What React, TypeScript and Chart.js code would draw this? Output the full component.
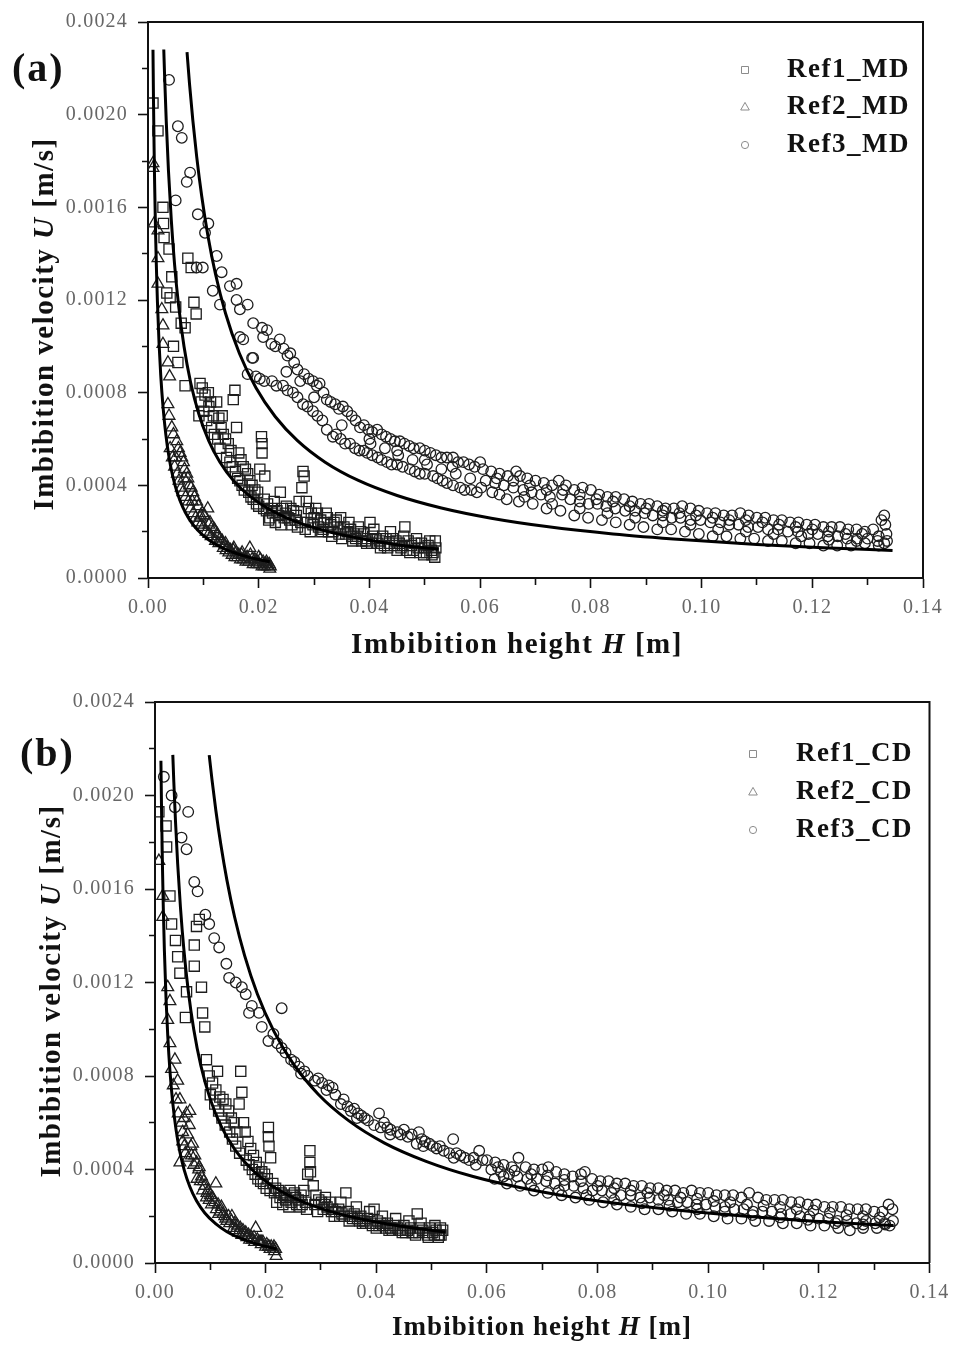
import React, { useEffect, useRef } from 'react';
import { Chart, registerables } from 'chart.js';

Chart.register(...registerables);

// All points: [H in mm, U in µm/s]  (converted to m and m/s for plotting)
type Pt = [number, number];

const xMajorTicks = [0, 0.02, 0.04, 0.06, 0.08, 0.1, 0.12, 0.14];
const yMajorTicks = [0, 0.0004, 0.0008, 0.0012, 0.0016, 0.002, 0.0024];
const xTitleParts = ['Imbibition height ', 'H', ' [m]'];
const yTitleParts = ['Imbibition velocity ', 'U', ' [m/s]'];
const mdLabels = ['Ref1_MD', 'Ref2_MD', 'Ref3_MD'];
const cdLabels = ['Ref1_CD', 'Ref2_CD', 'Ref3_CD'];

// ---------------- Panel (a): MD ----------------
const ref1MD: Pt[] = [
  [0.9, 2050], [1.8, 1930], [2.7, 1600], [2.8, 1530], [2.9, 1470], [3.4, 1230], [3.8, 1420], [4.0, 1210], [4.3, 1300], [4.6, 1000],
  [5.0, 1170], [5.4, 930], [6.0, 1100], [6.7, 1080], [6.7, 830], [7.2, 1380], [7.8, 1340], [8.3, 1190], [8.7, 1140], [9.2, 700],
  [9.4, 840], [9.6, 760], [9.8, 820], [10.1, 720], [10.3, 790], [10.6, 680], [10.9, 800], [11.0, 740], [11.3, 760], [11.5, 650],
  [11.8, 700], [12.0, 620], [12.4, 760], [12.6, 600], [12.8, 690], [13.0, 560], [13.2, 650], [13.4, 700], [13.6, 620], [14.0, 600],
  [14.2, 520], [14.5, 580], [14.8, 500], [15.0, 550], [15.2, 480], [15.4, 770], [15.7, 810], [15.8, 460], [16.0, 650], [16.2, 430],
  [16.4, 540], [16.6, 420], [16.8, 510], [17.0, 400], [17.2, 480], [17.4, 380], [17.6, 470], [18.0, 450], [18.2, 370], [18.4, 420],
  [18.6, 350], [18.8, 400], [19.0, 340], [19.3, 380], [19.6, 320], [19.8, 370], [20.0, 310], [20.2, 470], [20.5, 610], [20.6, 580],
  [20.6, 540], [20.9, 300], [21.0, 340], [21.1, 440], [21.4, 290], [21.6, 320], [22.0, 260], [22.3, 300], [22.5, 280], [22.8, 330],
  [23.3, 290], [23.6, 270], [23.9, 370], [24.3, 300], [24.6, 260], [24.8, 280], [25.3, 260], [25.6, 250], [25.8, 300], [26.3, 290],
  [26.6, 250], [26.8, 270], [27.3, 330], [27.6, 240], [27.8, 390], [28.0, 460], [28.2, 440], [28.6, 330], [28.8, 240], [29.0, 300],
  [29.5, 280], [29.8, 230], [30.0, 260], [30.6, 280], [30.8, 220], [31.2, 250], [31.6, 210], [31.8, 240], [32.4, 260], [32.6, 200],
  [33.0, 230], [33.4, 200], [33.6, 240], [34.2, 220], [34.5, 190], [34.8, 260], [35.4, 220], [35.7, 190], [36.0, 200], [36.6, 210],
  [36.8, 180], [37.2, 190], [37.5, 170], [37.8, 180], [38.4, 200], [38.6, 160], [39.0, 190], [39.3, 160], [39.6, 170], [40.1, 240],
  [40.4, 150], [40.6, 180], [41.2, 170], [41.5, 150], [41.8, 160], [42.4, 180], [42.7, 140], [43.0, 170], [43.3, 130], [43.6, 150],
  [44.2, 170], [44.5, 140], [44.8, 160], [45.4, 150], [45.7, 130], [46.0, 140], [46.4, 220], [46.7, 120], [47.0, 160], [47.6, 140],
  [47.9, 120], [48.2, 150], [48.8, 130], [49.1, 110], [49.4, 150], [50.0, 130], [50.3, 110], [50.6, 140], [51.2, 120], [51.5, 110],
  [51.8, 90], [51.9, 160], [52.0, 130],
  [21.8, 250], [23.0, 240], [24.0, 230], [25.0, 310], [26.0, 230], [27.0, 220], [28.4, 210], [29.3, 200], [30.3, 300], [31.4, 200],
  [32.2, 280], [33.2, 180], [34.0, 250], [35.0, 170], [36.3, 240], [37.0, 160], [38.0, 220], [39.5, 150], [40.8, 210], [42.0, 130],
  [43.8, 200], [45.0, 120], [46.2, 180], [47.3, 110], [48.5, 170], [49.8, 100], [50.9, 160], [51.3, 100],
];

const ref2MD: Pt[] = [
  [0.9, 1790], [0.9, 1770], [1.1, 1530], [1.8, 1500], [1.8, 1380], [1.8, 1270], [2.5, 1160], [2.7, 1090], [2.7, 1010], [3.6, 930],
  [3.9, 870], [3.6, 750], [3.8, 700], [4.0, 560], [4.3, 650], [4.4, 520], [4.6, 620], [4.8, 480], [5.2, 590], [5.3, 450],
  [5.5, 560], [5.6, 420], [5.8, 540], [6.0, 390], [6.1, 520], [6.3, 370], [6.4, 500], [6.6, 470], [6.8, 350], [7.0, 450],
  [7.2, 430], [7.3, 330], [7.5, 400], [7.7, 300], [7.8, 390], [8.1, 370], [8.2, 280], [8.4, 350], [8.6, 260], [8.8, 330],
  [9.0, 240], [9.1, 310], [9.4, 260], [9.6, 230], [9.8, 280], [10.0, 220], [10.2, 270], [10.5, 200], [10.8, 300], [11.0, 190],
  [11.2, 240], [11.4, 180], [11.6, 220], [12.0, 210], [12.2, 160], [12.5, 180], [12.8, 150], [13.0, 170], [13.4, 160], [13.6, 130],
  [13.9, 140], [14.1, 120], [14.4, 130], [14.6, 110], [14.9, 120], [15.2, 100], [15.4, 120], [15.7, 90], [15.9, 110], [16.2, 90],
  [16.4, 100], [16.7, 80], [16.9, 100], [17.2, 80], [17.4, 90], [17.7, 70], [17.9, 90], [18.2, 70], [18.4, 130], [18.8, 80],
  [19.0, 60], [19.3, 80], [19.6, 60], [19.8, 70], [20.1, 60], [20.3, 80], [20.6, 50], [20.8, 70], [21.0, 50], [21.2, 60],
  [21.4, 70], [21.6, 50], [21.9, 60], [22.0, 40], [22.1, 50],
  [5.0, 520], [6.5, 430], [8.0, 330], [9.5, 270], [11.0, 230], [12.5, 190], [14.0, 150], [15.5, 130], [17.0, 110], [18.5, 100],
  [20.0, 90], [21.5, 60],
];

const ref3MD: Pt[] = [
  [3.8, 2150], [5.0, 1630], [5.4, 1950], [6.1, 1900], [7.0, 1710], [7.6, 1750], [8.8, 1340], [9.0, 1570], [9.9, 1340], [10.3, 1490],
  [10.9, 1530], [11.7, 1240], [12.4, 1390], [13.0, 1180], [13.3, 1320], [14.8, 1260], [16.0, 1270], [16.0, 1200], [16.6, 1160], [16.6, 1040],
  [17.2, 1030], [18.0, 1180], [19.0, 1100], [19.0, 950], [20.6, 1080], [21.5, 1070],
  // upper branch
  [20.8, 1040], [22.3, 1010], [23.0, 1000], [23.8, 1030], [24.5, 990], [25.2, 960], [25.7, 970], [26.4, 930], [27.0, 900], [27.5, 850],
  [28.2, 880], [29.0, 860], [29.8, 850], [30.5, 830], [31.0, 840], [31.7, 800], [32.3, 770], [33.0, 760], [33.8, 750], [34.5, 730],
  [35.2, 740], [36.0, 720], [36.8, 700], [37.5, 680], [38.3, 650], [39.0, 660], [39.8, 640], [40.5, 630], [41.4, 640], [42.2, 620],
  [43.0, 610], [43.8, 600], [44.6, 590], [45.5, 590], [46.3, 580], [47.2, 570], [48.0, 560], [49.1, 560], [50.0, 550], [51.0, 540],
  [52.0, 530], [53.0, 520], [54.0, 520], [55.1, 520], [56.0, 500], [57.0, 500], [58.0, 490], [59.0, 480], [60.0, 500],
  // lower branch
  [18.0, 880], [18.8, 950], [19.5, 870], [20.2, 860], [21.0, 850], [22.4, 850], [23.2, 830], [24.4, 830], [25.2, 810], [26.2, 800],
  [27.0, 780], [28.0, 750], [28.8, 740], [29.8, 720], [30.6, 700], [31.5, 680], [32.3, 640], [33.4, 610], [34.0, 620], [34.8, 600],
  [35.6, 580], [36.5, 580], [37.4, 560], [38.2, 550], [39.0, 550], [39.6, 540], [40.5, 530], [41.5, 520], [42.2, 510], [43.2, 500],
  [44.0, 490], [45.0, 490], [46.0, 480], [47.3, 470], [48.2, 460], [49.1, 450], [50.0, 450], [51.5, 440], [52.3, 430], [53.2, 420],
  [54.0, 410], [55.1, 400], [56.4, 390], [57.2, 380], [58.4, 380], [59.4, 370],
  [40.2, 580], [42.8, 560], [45.2, 530], [47.8, 510], [50.4, 490], [53.0, 470], [55.6, 450], [58.2, 430],
  [25.0, 890], [30.0, 780], [35.0, 660], [40.0, 600], [45.0, 550], [50.0, 510], [55.0, 480],
  // band, upper
  [60.5, 470], [62.0, 460], [63.5, 450], [65.0, 440], [66.5, 460], [67.2, 440], [68.5, 430], [70.0, 420], [71.5, 410], [73.0, 400],
  [74.2, 420], [75.5, 400], [77.0, 380], [78.5, 390], [80.0, 380], [81.5, 360], [83.0, 350], [84.5, 350], [86.0, 340], [87.5, 330],
  [89.0, 320], [90.5, 320], [92.0, 310], [93.5, 300], [95.0, 300], [96.5, 310], [98.0, 300], [99.5, 290], [101.0, 280], [102.5, 280],
  [104.0, 270], [105.5, 270], [107.0, 280], [108.5, 270], [110.0, 260], [111.5, 260], [113.0, 250], [114.5, 250], [116.0, 240], [117.5, 240],
  [119.0, 230], [120.5, 230], [122.0, 220], [123.5, 220], [125.0, 220], [126.5, 210], [128.0, 210], [129.5, 200], [131.0, 210], [132.5, 250],
  [133.0, 270], [133.2, 230],
  // band, upper-middle
  [63.0, 430], [66.0, 420], [69.0, 400], [72.0, 380], [75.0, 380], [78.0, 360], [81.0, 340], [84.0, 330], [87.0, 310], [90.0, 300],
  [93.0, 290], [96.0, 280], [99.0, 270], [102.0, 260], [105.0, 250], [108.0, 250], [111.0, 240], [114.0, 230], [117.0, 220], [120.0, 210],
  [123.0, 200], [126.0, 190], [129.0, 190], [132.0, 180],
  // band, middle
  [61.0, 420], [62.7, 410], [64.3, 400], [66.0, 390], [67.8, 380], [69.3, 370], [71.0, 360], [72.6, 350], [74.8, 360], [76.3, 340],
  [78.0, 330], [79.6, 320], [81.2, 320], [82.8, 310], [84.4, 300], [86.2, 290], [88.0, 290], [89.7, 280], [91.2, 270], [93.0, 270],
  [94.6, 260], [96.2, 260], [98.0, 250], [99.8, 250], [101.6, 240], [103.4, 240], [105.0, 230], [106.7, 230], [108.4, 220], [110.2, 220],
  [112.0, 210], [113.8, 210], [115.6, 200], [117.4, 200], [119.3, 190], [121.0, 190], [122.8, 180], [124.6, 180], [126.3, 170], [128.1, 170],
  [130.0, 170], [131.8, 160], [133.4, 190],
  // band, lower-middle
  [63.5, 360], [68.0, 350], [73.0, 320], [78.0, 300], [83.0, 280], [88.0, 260], [93.0, 240], [98.0, 230], [103.0, 210], [108.0, 200],
  [113.0, 190], [118.0, 180], [123.0, 165], [128.0, 160], [133.0, 150],
  // band, lower
  [60.2, 390], [62.2, 370], [64.8, 340], [67.0, 330], [69.5, 320], [72.0, 300], [74.5, 290], [77.0, 270], [79.5, 260], [82.0, 250],
  [84.5, 240], [87.0, 230], [89.5, 220], [92.0, 210], [94.5, 210], [97.0, 200], [99.5, 190], [102.0, 180], [104.5, 180], [107.0, 170],
  [109.5, 170], [112.0, 160], [114.5, 160], [117.0, 150], [119.5, 150], [122.0, 140], [124.5, 140], [127.0, 140], [129.5, 150], [132.0, 140],
  [133.5, 160],
];

const fitA1: Pt[] = [
  [0.9, 2280], [1.0, 2046], [1.1, 1858], [1.2, 1700], [1.35, 1510], [1.5, 1356], [1.7, 1194], [2.0, 1011], [2.3, 876], [2.7, 743],
  [3.2, 623], [3.8, 521], [4.5, 436], [5.3, 367], [6.3, 305], [7.5, 252], [9.0, 206], [11.0, 164], [13.0, 135], [15.5, 110],
  [18.0, 91], [20.0, 80], [22.0, 70],
];
const fitA2: Pt[] = [
  [2.85, 2281], [3.0, 2167], [3.3, 1970], [3.7, 1757], [4.2, 1548], [4.8, 1354], [5.5, 1182], [6.5, 1000], [7.7, 844], [9.2, 707],
  [11.0, 591], [13.0, 500], [15.5, 419], [18.5, 351], [22.0, 295], [26.0, 250], [30.0, 217], [35.0, 186], [40.0, 163], [45.0, 144],
  [52.5, 124],
];
const fitA3: Pt[] = [
  [7.05, 2270], [7.5, 2133], [8.1, 1975], [8.8, 1818], [9.7, 1649], [10.8, 1481], [12.2, 1311], [14.0, 1143], [16.5, 970], [19.5, 821],
  [23.0, 696], [27.0, 593], [32.0, 500], [38.0, 421], [45.0, 356], [53.0, 302], [62.0, 258], [72.0, 222], [84.0, 190], [97.0, 165],
  [110.0, 145], [122.0, 131], [134.5, 119],
];

// ---------------- Panel (b): CD ----------------
const ref1CD: Pt[] = [
  [0.7, 1930], [2.0, 1870], [2.1, 1780], [2.7, 1570], [3.0, 1450], [3.7, 1380], [4.1, 1310], [4.5, 1240], [5.5, 1050], [5.7, 1160],
  [7.1, 1360], [7.1, 1270], [7.5, 1440], [8.0, 1470], [8.4, 1180], [8.6, 1070], [9.0, 1010], [9.3, 870], [9.8, 800], [10.0, 720],
  [10.4, 770], [10.8, 680], [11.0, 740], [11.3, 820], [11.5, 650], [11.7, 710], [12.1, 620], [12.3, 700], [12.7, 590], [12.8, 680],
  [13.3, 650], [13.5, 560], [13.8, 620], [14.0, 530], [14.3, 600], [14.6, 500], [14.8, 560], [15.2, 680], [15.3, 470], [15.5, 820],
  [15.7, 730], [16.0, 600], [16.3, 560], [16.5, 440], [16.8, 520], [17.0, 420], [17.3, 490], [17.6, 400], [17.8, 460], [18.1, 380],
  [18.3, 430], [18.6, 360], [18.8, 410], [19.1, 350], [19.3, 390], [19.6, 340], [19.8, 380], [20.1, 320], [20.3, 360], [20.5, 580],
  [20.5, 540], [20.6, 500], [20.8, 310], [20.9, 450], [21.3, 340], [21.6, 300], [21.8, 320], [22.3, 310], [22.6, 280], [22.8, 300],
  [23.3, 290], [23.6, 270], [23.8, 280], [24.4, 310], [24.6, 260], [24.9, 290], [25.4, 280], [25.6, 250], [25.9, 270], [26.4, 290],
  [26.6, 250], [26.9, 310], [27.2, 260], [27.6, 380], [28.0, 480], [28.0, 430], [28.1, 390], [28.6, 330], [28.9, 250], [29.1, 290],
  [29.6, 270], [30.1, 260], [30.4, 230], [30.6, 250], [31.1, 240], [31.6, 260], [31.9, 220], [32.1, 230], [32.7, 220], [33.2, 230],
  [33.4, 200], [33.8, 210], [34.2, 200], [34.5, 300], [34.9, 220], [35.4, 200], [35.7, 190], [36.0, 210], [36.6, 190], [37.0, 180],
  [37.2, 200], [37.8, 180], [38.1, 170], [38.4, 190], [39.0, 170], [39.3, 160], [39.6, 230], [40.2, 180], [40.5, 160], [40.8, 170],
  [41.4, 160], [41.7, 150], [42.0, 170], [42.6, 150], [42.9, 140], [43.2, 160], [43.8, 150], [44.1, 140], [44.4, 140], [45.0, 160],
  [45.3, 130], [45.6, 140], [46.2, 150], [46.5, 130], [46.8, 130], [47.4, 210], [47.7, 130], [47.8, 150], [48.4, 140], [49.0, 130],
  [49.3, 120], [49.6, 150], [50.2, 130], [50.5, 120], [50.8, 140], [51.4, 120], [51.6, 150], [51.7, 120], [52.0, 140],
  [22.0, 260], [23.1, 250], [24.2, 240], [25.2, 300], [26.2, 240], [27.4, 230], [29.4, 220], [30.8, 280], [32.4, 200], [33.6, 260],
  [35.1, 180], [36.4, 240], [37.5, 170], [38.8, 220], [40.0, 150], [41.1, 200], [42.3, 140], [43.5, 190], [44.7, 130], [45.9, 180],
  [47.1, 120], [48.1, 170], [49.4, 110], [50.6, 160], [51.2, 110],
];

const ref2CD: Pt[] = [
  [0.7, 1720], [1.4, 1570], [1.4, 1480], [2.3, 1180], [2.3, 1040], [2.7, 1120], [2.7, 940], [3.0, 830], [3.3, 760], [3.6, 870],
  [3.8, 700], [4.1, 780], [4.2, 640], [4.5, 700], [4.5, 430], [4.8, 600], [5.0, 560], [5.2, 620], [5.3, 500], [5.5, 470],
  [5.7, 640], [5.9, 550], [6.0, 450], [6.2, 590], [6.3, 650], [6.5, 500], [6.8, 510], [7.0, 420], [7.2, 460], [7.5, 430],
  [7.6, 360], [7.9, 400], [8.0, 410], [8.4, 370], [8.6, 310], [8.8, 350], [9.0, 330], [9.3, 280], [9.4, 300], [9.6, 310],
  [10.0, 290], [10.2, 250], [10.4, 280], [10.8, 260], [11.0, 340], [11.1, 230], [11.4, 250], [11.8, 220], [12.0, 240], [12.3, 210],
  [12.6, 200], [12.8, 190], [13.3, 200], [13.5, 170], [13.8, 180], [13.9, 200], [14.2, 150], [14.4, 170], [14.9, 160], [15.1, 130],
  [15.4, 150], [15.7, 120], [15.9, 140], [16.4, 130], [16.6, 110], [16.9, 120], [17.1, 100], [17.4, 110], [17.9, 110], [18.0, 90],
  [18.2, 150], [18.5, 100], [18.8, 90], [19.0, 90], [19.2, 80], [19.5, 90], [20.0, 70], [20.2, 80], [20.5, 70], [20.8, 60],
  [21.0, 70], [21.4, 60], [21.6, 50], [21.8, 60], [21.9, 30],
  [5.0, 520], [6.6, 460], [8.2, 350], [9.8, 270], [11.5, 210], [13.0, 180], [14.6, 140], [16.2, 120], [17.6, 100], [19.2, 90],
  [20.6, 70], [21.5, 70],
];

const ref3CD: Pt[] = [
  [1.6, 2080], [3.0, 2000], [3.6, 1950], [4.8, 1820], [5.7, 1770], [6.0, 1930], [7.1, 1630], [7.7, 1590], [9.1, 1490], [9.8, 1450],
  [10.7, 1390], [11.6, 1350], [12.9, 1280], [13.4, 1220], [14.6, 1200], [15.7, 1180], [16.4, 1150], [17.0, 1070], [17.5, 1100], [18.8, 1070],
  [19.3, 1010], [20.5, 950], [21.4, 980], [22.1, 940], [22.9, 1090], [22.9, 920], [23.6, 900], [24.6, 870], [25.2, 860], [26.4, 810],
  [27.0, 820], [27.6, 800], [28.9, 780], [29.5, 790], [30.2, 770], [31.4, 760], [32.1, 750], [32.6, 720], [33.6, 680], [34.1, 700],
  [34.8, 670], [35.4, 650], [36.0, 660], [36.7, 640], [37.3, 630], [37.9, 620], [38.5, 610], [39.6, 590], [40.5, 640], [40.8, 580],
  [41.4, 600], [42.0, 580], [42.6, 570], [43.8, 560], [44.4, 550], [45.0, 570], [45.7, 540], [46.4, 550], [47.3, 510], [47.7, 560],
  [48.2, 530], [48.8, 520], [49.6, 510], [50.2, 500], [50.9, 490], [51.5, 500], [52.2, 480], [53.2, 470], [53.9, 530], [54.5, 470],
  [55.2, 460], [56.0, 450], [56.8, 440], [57.6, 450], [58.6, 480], [59.2, 440],
  [26.0, 840], [31.0, 740], [36.5, 620], [42.5, 550], [48.5, 500], [54.0, 450], [58.0, 420],
  // band, upper
  [60.0, 440], [61.5, 430], [63.0, 420], [64.5, 410], [65.7, 450], [67.0, 410], [68.5, 400], [70.0, 400], [71.1, 410], [72.5, 390],
  [74.0, 380], [75.5, 370], [77.0, 380], [77.7, 390], [79.0, 360], [80.5, 350], [82.0, 350], [83.5, 340], [85.0, 340], [86.5, 330],
  [88.0, 330], [89.5, 320], [91.0, 320], [92.5, 310], [94.0, 310], [95.5, 300], [97.0, 310], [98.5, 300], [100.0, 300], [101.5, 290],
  [103.0, 290], [104.5, 290], [106.0, 280], [107.4, 300], [109.0, 280], [110.5, 270], [112.0, 270], [113.5, 270], [115.0, 260], [116.5, 260],
  [118.0, 250], [119.5, 250], [121.0, 240], [122.5, 240], [124.0, 240], [125.5, 230], [127.0, 230], [128.5, 230], [130.0, 220], [131.5, 220],
  [132.6, 250], [133.3, 230],
  // band, upper-middle
  [62.0, 410], [65.0, 395], [68.0, 380], [71.0, 375], [74.0, 355], [77.0, 350], [80.0, 330], [83.0, 320], [86.0, 310], [89.0, 300],
  [92.0, 290], [95.0, 280], [98.0, 275], [101.0, 265], [104.0, 260], [107.0, 250], [110.0, 245], [113.0, 240], [116.0, 230], [119.0, 225],
  [122.0, 215], [125.0, 205], [128.0, 200], [131.0, 195],
  // band, middle
  [60.8, 400], [62.5, 390], [64.0, 380], [65.5, 370], [67.3, 360], [69.0, 360], [70.7, 350], [72.3, 340], [74.0, 330], [75.7, 330],
  [77.4, 320], [79.1, 310], [80.8, 310], [82.5, 300], [84.2, 290], [86.0, 290], [87.7, 280], [89.4, 280], [91.0, 270], [92.8, 270],
  [94.5, 260], [96.2, 260], [97.9, 250], [99.6, 250], [101.3, 240], [103.0, 240], [104.7, 230], [106.4, 230], [108.1, 220], [109.8, 220],
  [111.5, 220], [113.2, 210], [114.9, 210], [116.6, 200], [118.3, 200], [120.0, 190], [121.7, 190], [123.4, 180], [125.1, 180], [126.8, 170],
  [128.5, 180], [130.2, 170], [131.9, 170], [133.4, 180],
  // band, lower-middle
  [63.0, 370], [68.0, 335], [73.0, 310], [78.0, 290], [83.0, 270], [88.0, 255], [93.0, 245], [98.0, 230], [103.0, 220], [108.0, 205],
  [113.0, 195], [118.0, 185], [123.0, 170], [128.0, 165], [132.0, 165],
  // band, lower
  [61.4, 360], [63.6, 340], [66.0, 330], [68.5, 310], [71.0, 300], [73.5, 290], [76.0, 280], [78.5, 270], [81.0, 260], [83.5, 250],
  [86.0, 240], [88.5, 230], [91.0, 230], [93.5, 220], [96.0, 210], [98.5, 210], [101.0, 200], [103.5, 190], [106.0, 190], [108.5, 180],
  [111.0, 180], [113.5, 170], [116.0, 170], [118.5, 160], [121.0, 160], [123.5, 150], [125.6, 140], [128.0, 150], [130.5, 150], [132.8, 160],
];

const fitB1: Pt[] = [
  [1.07, 2149], [1.2, 1911], [1.35, 1694], [1.5, 1520], [1.7, 1335], [2.0, 1128], [2.3, 975], [2.7, 823], [3.2, 687], [3.8, 571],
  [4.5, 475], [5.3, 396], [6.3, 326], [7.5, 266], [9.0, 214], [11.0, 167], [13.0, 134], [15.5, 105], [18.0, 84], [20.0, 71],
  [22.0, 60],
];
const fitB2: Pt[] = [
  [3.22, 2174], [3.4, 2059], [3.7, 1892], [4.1, 1707], [4.6, 1522], [5.2, 1346], [6.0, 1167], [7.0, 1000], [8.3, 843], [10.0, 700],
  [12.0, 583], [14.5, 483], [17.5, 400], [21.0, 333], [25.0, 280], [29.5, 237], [35.0, 200], [41.0, 171], [47.0, 149], [52.5, 133],
];
const fitB3: Pt[] = [
  [9.8, 2173], [10.3, 2068], [11.0, 1936], [11.9, 1790], [13.0, 1638], [14.4, 1479], [16.2, 1315], [18.5, 1151], [21.5, 991], [25.0, 852],
  [29.5, 722], [35.0, 609], [41.5, 513], [49.0, 435], [57.5, 370], [67.0, 318], [78.0, 273], [90.0, 237], [103.0, 207], [117.0, 182],
  [133.5, 160],
];

// ---------------- drawing helpers ----------------
const FONT = '"Liberation Serif", "Times New Roman", serif';
const MARKERS = ['rect', 'triangle', 'circle'];
const MARKER_R = [7.2, 6.8, 5.3];

const toXY = (arr: Pt[]) => arr.map(([h, u]) => ({ x: h / 1000, y: u / 1e6 }));
const inList = (v: number, list: number[]) => list.some((m) => Math.abs(m - v) < 1e-9);

interface PanelSpec {
  letter: string;
  letterPos: [number, number];
  labels: string[];
  series: Pt[][];
  fits: Pt[][];
  canvasH: number;
  area: { left: number; top: number; right: number; bottom: number };
  legend: { markerX: number; textX: number; rows: number[] };
  xTitle: { cx: number; baseline: number; size: number; spacing: number };
  yTitle: { baseX: number; cy: number; size: number; spacing: number };
}

function drawRich(ctx: any, parts: string[], size: number, spacing: number, cx: number, y: number) {
  ctx.letterSpacing = spacing + 'px';
  const fonts = parts.map((_, i) => `${i === 1 ? 'italic ' : ''}bold ${size}px ${FONT}`);
  const widths = parts.map((p, i) => {
    ctx.font = fonts[i];
    return ctx.measureText(p).width;
  });
  const total = widths.reduce((a, b) => a + b, 0);
  let x = cx - total / 2;
  ctx.textAlign = 'left';
  ctx.textBaseline = 'alphabetic';
  parts.forEach((p, i) => {
    ctx.font = fonts[i];
    ctx.fillText(p, x, y);
    x += widths[i];
  });
}

function drawMarker(ctx: any, style: string, x: number, y: number) {
  ctx.beginPath();
  if (style === 'rect') {
    ctx.rect(x - 3.5, y - 3.5, 7, 7);
  } else if (style === 'triangle') {
    ctx.moveTo(x, y - 4.6);
    ctx.lineTo(x + 4.3, y + 3);
    ctx.lineTo(x - 4.3, y + 3);
    ctx.closePath();
  } else {
    ctx.arc(x, y, 3.6, 0, Math.PI * 2);
  }
  ctx.stroke();
}

function makeDecor(spec: PanelSpec) {
  return {
    id: 'decor',
    beforeDraw(chart: any) {
      const ctx = chart.ctx;
      ctx.save();
      ctx.fillStyle = '#ffffff';
      ctx.fillRect(0, 0, chart.width, chart.height);
      ctx.restore();
      ctx.letterSpacing = '1.2px';
    },
    afterDraw(chart: any) {
      const ctx = chart.ctx;
      const a = chart.chartArea;
      ctx.save();
      // frame top & right
      ctx.strokeStyle = '#111';
      ctx.lineWidth = 2;
      ctx.beginPath();
      ctx.moveTo(a.left, a.top);
      ctx.lineTo(a.right, a.top);
      ctx.lineTo(a.right, a.bottom);
      ctx.stroke();

      // legend
      spec.legend.rows.forEach((ry, i) => {
        ctx.strokeStyle = '#8c8c8c';
        ctx.lineWidth = 1;
        drawMarker(ctx, MARKERS[i], spec.legend.markerX, ry);
        ctx.fillStyle = '#111';
        ctx.font = `bold 27px ${FONT}`;
        ctx.letterSpacing = '1.5px';
        ctx.textAlign = 'left';
        ctx.textBaseline = 'middle';
        ctx.fillText(spec.labels[i], spec.legend.textX, ry);
      });

      // axis titles
      ctx.fillStyle = '#111';
      const xt = spec.xTitle;
      drawRich(ctx, xTitleParts, xt.size, xt.spacing, xt.cx, xt.baseline);
      const yt = spec.yTitle;
      ctx.save();
      ctx.translate(yt.baseX, yt.cy);
      ctx.rotate(-Math.PI / 2);
      drawRich(ctx, yTitleParts, yt.size, yt.spacing, 0, 0);
      ctx.restore();

      // panel letter
      ctx.font = `bold 40px ${FONT}`;
      ctx.letterSpacing = '2px';
      ctx.textAlign = 'left';
      ctx.textBaseline = 'alphabetic';
      ctx.fillStyle = '#111';
      ctx.fillText(spec.letter, spec.letterPos[0], spec.letterPos[1]);
      ctx.restore();
      ctx.letterSpacing = '0px';
    },
  };
}

function buildChart(canvas: HTMLCanvasElement, spec: PanelSpec) {
  const datasets: any[] = [];
  spec.fits.forEach((f) =>
    datasets.push({
      label: 'fit',
      data: toXY(f),
      showLine: true,
      pointRadius: 0,
      pointHoverRadius: 0,
      borderColor: '#000',
      borderWidth: 3,
      cubicInterpolationMode: 'monotone',
      fill: false,
    })
  );
  spec.series.forEach((s, i) =>
    datasets.push({
      label: spec.labels[i],
      data: toXY(s),
      showLine: false,
      pointStyle: MARKERS[i],
      pointRadius: MARKER_R[i],
      pointHoverRadius: MARKER_R[i],
      pointBorderColor: '#1e1e1e',
      pointBackgroundColor: 'rgba(0,0,0,0)',
      pointBorderWidth: 1.3,
    })
  );

  const W = 955;
  const tickFont = { family: FONT, size: 20 };
  return new Chart(canvas, {
    type: 'scatter',
    data: { datasets },
    plugins: [makeDecor(spec)],
    options: {
      responsive: false,
      maintainAspectRatio: false,
      animation: false,
      devicePixelRatio: 1,
      events: [],
      layout: { padding: { left: 0, top: spec.area.top, right: W - spec.area.right, bottom: 0 } },
      plugins: { legend: { display: false }, tooltip: { enabled: false }, title: { display: false } },
      scales: {
        x: {
          type: 'linear',
          min: 0,
          max: 0.14,
          afterFit: (s: any) => {
            s.height = spec.canvasH - spec.area.bottom;
          },
          ticks: {
            stepSize: 0.01,
            autoSkip: false,
            maxRotation: 0,
            padding: 8,
            color: '#666',
            font: tickFont,
            callback: (v: any) => (inList(Number(v), xMajorTicks) ? Number(v).toFixed(2) : ''),
          },
          grid: {
            drawOnChartArea: false,
            drawTicks: true,
            tickLength: 10,
            tickWidth: 1.6,
            tickColor: '#111',
            tickBorderDash: (c: any) => (c.tick && !inList(c.tick.value, xMajorTicks) ? [6, 100] : []),
          },
          border: { display: true, color: '#111', width: 2 },
        },
        y: {
          type: 'linear',
          min: 0,
          max: 0.0024,
          afterFit: (s: any) => {
            s.width = spec.area.left;
          },
          ticks: {
            stepSize: 0.0002,
            autoSkip: false,
            padding: 10,
            color: '#666',
            font: tickFont,
            callback: (v: any) => (inList(Number(v), yMajorTicks) ? Number(v).toFixed(4) : ''),
          },
          grid: {
            drawOnChartArea: false,
            drawTicks: true,
            tickLength: 10,
            tickWidth: 1.6,
            tickColor: '#111',
            tickBorderDash: (c: any) => (c.tick && !inList(c.tick.value, yMajorTicks) ? [0, 4, 6, 100] : []),
          },
          border: { display: true, color: '#111', width: 2 },
        },
      },
    } as any,
  });
}

const specA: PanelSpec = {
  letter: '(a)',
  letterPos: [12, 81],
  labels: mdLabels,
  series: [ref1MD, ref2MD, ref3MD],
  fits: [fitA1, fitA2, fitA3],
  canvasH: 670,
  area: { left: 148, top: 21, right: 923, bottom: 578 },
  legend: { markerX: 745, textX: 787, rows: [70, 107, 145] },
  xTitle: { cx: 517, baseline: 653, size: 29, spacing: 1.5 },
  yTitle: { baseX: 53, cy: 324, size: 29, spacing: 1.5 },
};

const specB: PanelSpec = {
  letter: '(b)',
  letterPos: [20, 96],
  labels: cdLabels,
  series: [ref1CD, ref2CD, ref3CD],
  fits: [fitB1, fitB2, fitB3],
  canvasH: 675,
  area: { left: 155, top: 32, right: 930, bottom: 593 },
  legend: { markerX: 753, textX: 796, rows: [84, 122, 160] },
  xTitle: { cx: 542, baseline: 665, size: 27, spacing: 1 },
  yTitle: { baseX: 60, cy: 321, size: 29, spacing: 1.5 },
};

export default function App() {
  const refA = useRef<HTMLCanvasElement | null>(null);
  const refB = useRef<HTMLCanvasElement | null>(null);

  useEffect(() => {
    const charts: Chart[] = [];
    if (refA.current) charts.push(buildChart(refA.current, specA));
    if (refB.current) charts.push(buildChart(refB.current, specB));
    return () => charts.forEach((c) => c.destroy());
  }, []);

  return (
    <div style={{ position: 'absolute', left: 0, top: 0, width: 955, height: 1345, background: '#fff' }}>
      <canvas
        ref={refA}
        width={955}
        height={670}
        style={{ position: 'absolute', left: 0, top: 0, width: 955, height: 670 }}
      />
      <canvas
        ref={refB}
        width={955}
        height={675}
        style={{ position: 'absolute', left: 0, top: 670, width: 955, height: 675 }}
      />
    </div>
  );
}
